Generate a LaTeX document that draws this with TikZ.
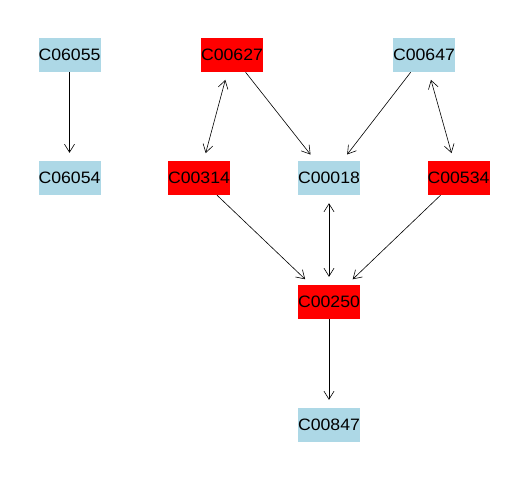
\documentclass[tikz,border=0pt]{standalone}
\usepackage{fontspec}
\setmainfont[FakeStretch=1.07]{Liberation Sans}
\usetikzlibrary{arrows.meta}
\definecolor{lightbluebox}{RGB}{173,216,230}
\tikzset{
  cpd/.style={rectangle, inner sep=0pt, minimum width=62pt, minimum height=34pt,
    font=\fontsize{16.5}{16.5}\selectfont, text=black},
  plain/.style={cpd, fill=lightbluebox},
  hit/.style={cpd, fill=red},
  link/.style={draw=black, line width=0.6pt, -{Straight Barb[length=8pt,width=10pt]}, shorten >=8pt},
  bilink/.style={draw=black, line width=0.6pt, {Straight Barb[length=8pt,width=10pt]}-{Straight Barb[length=8pt,width=10pt]}, shorten >=8pt, shorten <=8pt}
}
\begin{document}
\begin{tikzpicture}[x=1pt,y=-1pt]
  \fill[white] (0,0) rectangle (528,480);
  \useasboundingbox (0,0) rectangle (528,480);

  \node[plain] (c06055) at (69.5,55) {C06055};
  \node[plain] (c06054) at (69.5,178) {C06054};
  \node[hit]   (c00627) at (232,55) {C00627};
  \node[plain] (c00647) at (424,55) {C00647};
  \node[hit]   (c00314) at (199,178) {C00314};
  \node[plain] (c00018) at (329,178) {C00018};
  \node[hit]   (c00534) at (458.5,178) {C00534};
  \node[hit]   (c00250) at (329,302) {C00250};
  \node[plain] (c00847) at (329,425) {C00847};

  \draw[link]   (c06055) -- (c06054);
  \draw[bilink] (c00627) -- (c00314);
  \draw[link]   (c00627) -- (c00018);
  \draw[link]   (c00647) -- (c00018);
  \draw[bilink] (c00647) -- (c00534);
  \draw[link]   (c00314) -- (c00250);
  \draw[bilink] (c00018) -- (c00250);
  \draw[link]   (c00534) -- (c00250);
  \draw[link]   (c00250) -- (c00847);
\end{tikzpicture}
\end{document}
